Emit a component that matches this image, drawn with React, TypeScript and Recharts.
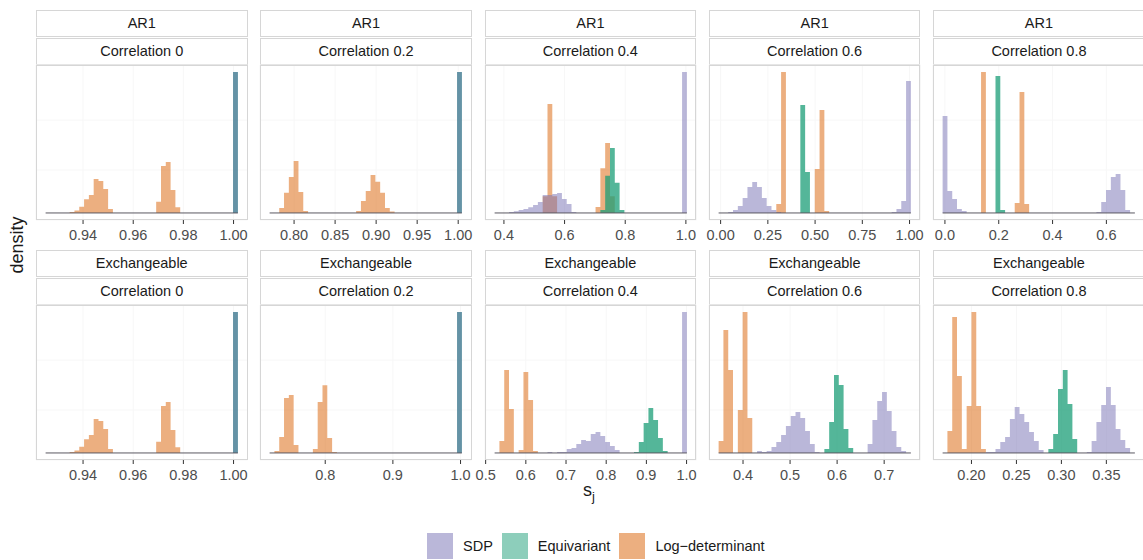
import { ComposedChart, Area, XAxis, YAxis, CartesianGrid, ReferenceLine } from 'recharts'

const FONT = '"Liberation Sans", Arial, Helvetica, sans-serif'
const BINS = 40

const methods = ['SDP', 'Equivariant', 'Log−determinant']
const methodColors = ['#7570b3', '#1b9e77', '#d95f02']

const structures = ['AR1', 'Exchangeable']
const correlations = ['Correlation 0', 'Correlation 0.2', 'Correlation 0.4', 'Correlation 0.6', 'Correlation 0.8']

// each panel: 40 histogram bins over [lo, hi]; runs are [first bin, height, height, ...]
// correlation 0 gives the identity matrix, so both structures share it
const r0_range = [0.92507, 1.00173]
const r0_ticks = [0.94, 0.96, 0.98, 1.0]
const r0_sdp = [[39, 423]]
const r0_eq = [[39, 423]]
const r0_ld = [[5, 3, 7, 19, 41, 54, 102, 96, 72, 12], [23, 34, 141, 153, 69, 17]]

const ar1_02_range = [0.7702, 1.0045]
const ar1_02_ticks = [0.8, 0.85, 0.9, 0.95, 1.0]
const ar1_02_sdp = [[39, 423]]
const ar1_02_eq = [[39, 423]]
const ar1_02_ld = [[2, 15, 61, 108, 156, 63, 6], [18, 6, 36, 66, 114, 94, 61, 15, 4]]

const ar1_04_range = [0.3693, 1.0033]
const ar1_04_ticks = [0.4, 0.6, 0.8, 1.0]
const ar1_04_sdp = [[3, 3, 5, 9, 12, 17, 24, 33, 54, 54, 57, 60, 42, 27, 3], [39, 423]]
const ar1_04_eq = [[22, 9, 112, 195, 91, 9]]
const ar1_04_ld = [[10, 50, 327, 50], [21, 18, 134, 210, 50]]

const ar1_06_range = [-0.0106, 1.0071]
const ar1_06_ticks = [0, 0.25, 0.5, 0.75, 1.0]
const ar1_06_sdp = [[2, 3, 9, 21, 45, 78, 93, 78, 45, 21, 9, 3], [36, 3, 12, 36, 396]]
const ar1_06_eq = [[17, 324, 123]]
const ar1_06_ld = [[12, 27, 423], [20, 132, 309, 6]]

const ar1_08_range = [-0.0086, 0.7059]
const ar1_08_ticks = [0, 0.2, 0.4, 0.6]
const ar1_08_sdp = [[0, 291, 66, 42, 12, 6], [32, 3, 33, 69, 108, 117, 69, 9]]
const ar1_08_eq = [[11, 411, 9]]
const ar1_08_ld = [[8, 423], [15, 30, 363, 27]]

const exc_02_range = [0.7178, 1.002]
const exc_02_ticks = [0.8, 0.9, 1.0]
const exc_02_sdp = [[39, 423]]
const exc_02_eq = [[39, 423]]
const exc_02_ld = [[1, 6, 48, 165, 174, 24], [9, 12, 153, 203, 45, 3]]

const exc_04_range = [0.5223, 1.0008]
const exc_04_ticks = [0.5, 0.6, 0.7, 0.8, 0.9, 1.0]
const exc_04_sdp = [[11, 3, 0, 3, 3, 12, 15, 27, 39, 36, 57, 63, 51, 33, 21, 9], [39, 423]]
const exc_04_eq = [[29, 3, 33, 90, 135, 99, 45, 6]]
const exc_04_ld = [[1, 36, 249, 132, 0, 9, 243, 159, 6]]

const exc_06_range = [0.3481, 0.7568]
const exc_06_ticks = [0.4, 0.5, 0.6, 0.7]
const exc_06_sdp = [[8, 6, 3, 6, 18, 33, 54, 81, 111, 123, 105, 66, 27, 3], [31, 27, 99, 156, 183, 126, 66, 18, 6]]
const exc_06_eq = [[22, 12, 93, 234, 204, 72, 15]]
const exc_06_ld = [[0, 36, 369, 249, 0, 129, 423, 105]]

const exc_08_range = [0.16793, 0.38172]
const exc_08_ticks = [0.2, 0.25, 0.3, 0.35]
const exc_08_sdp = [[9, 3, 3, 12, 33, 48, 102, 138, 117, 93, 63, 36, 9], [30, 3, 36, 93, 144, 198, 144, 72, 39, 15]]
const exc_08_eq = [[22, 12, 57, 192, 249, 147, 42]]
const exc_08_ld = [[1, 66, 408, 231, 12, 141, 423, 141, 12]]

const panels = [
  { row: 0, col: 0, range: r0_range, ticks: r0_ticks, digits: 2, sdp: r0_sdp, eq: r0_eq, ld: r0_ld },
  { row: 0, col: 1, range: ar1_02_range, ticks: ar1_02_ticks, digits: 2, sdp: ar1_02_sdp, eq: ar1_02_eq, ld: ar1_02_ld },
  { row: 0, col: 2, range: ar1_04_range, ticks: ar1_04_ticks, digits: 1, sdp: ar1_04_sdp, eq: ar1_04_eq, ld: ar1_04_ld },
  { row: 0, col: 3, range: ar1_06_range, ticks: ar1_06_ticks, digits: 2, sdp: ar1_06_sdp, eq: ar1_06_eq, ld: ar1_06_ld },
  { row: 0, col: 4, range: ar1_08_range, ticks: ar1_08_ticks, digits: 1, sdp: ar1_08_sdp, eq: ar1_08_eq, ld: ar1_08_ld },
  { row: 1, col: 0, range: r0_range, ticks: r0_ticks, digits: 2, sdp: r0_sdp, eq: r0_eq, ld: r0_ld },
  { row: 1, col: 1, range: exc_02_range, ticks: exc_02_ticks, digits: 1, sdp: exc_02_sdp, eq: exc_02_eq, ld: exc_02_ld },
  { row: 1, col: 2, range: exc_04_range, ticks: exc_04_ticks, digits: 1, sdp: exc_04_sdp, eq: exc_04_eq, ld: exc_04_ld },
  { row: 1, col: 3, range: exc_06_range, ticks: exc_06_ticks, digits: 1, sdp: exc_06_sdp, eq: exc_06_eq, ld: exc_06_ld },
  { row: 1, col: 4, range: exc_08_range, ticks: exc_08_ticks, digits: 2, sdp: exc_08_sdp, eq: exc_08_eq, ld: exc_08_ld },
]

const COL_LEFT = [36, 260.3, 484.6, 708.9, 933.2]
const ROW_TOP = [10, 250]
const PANEL_W = 211.5
const PANEL_H = 155
const STRIP_H = 27
const BORDER = '#d6d6d6'

type Key = 'sdp' | 'eq' | 'ld'

function toRows(range: number[], sdp: number[][], eq: number[][], ld: number[][]) {
  const [lo, hi] = range
  const width = (hi - lo) / BINS
  const rows = Array.from({ length: BINS + 1 }, (_, k) => ({ x: lo + k * width, sdp: 0, eq: 0, ld: 0 }))
  const put = (runs: number[][], key: Key) =>
    runs.forEach(([first, ...heights]) =>
      heights.forEach((h, i) => {
        rows[first + i][key] = h
      })
    )
  put(sdp, 'sdp')
  put(eq, 'eq')
  put(ld, 'ld')
  return rows
}

function Panel({ p }: { p: (typeof panels)[number] }) {
  const rows = toRows(p.range, p.sdp, p.eq, p.ld)
  const ymax = Math.max(...rows.map((r) => Math.max(r.sdp, r.eq, r.ld)))
  const [lo, hi] = p.range
  const pad = (hi - lo) * 0.05
  const strip: React.CSSProperties = {
    position: 'absolute',
    left: 0,
    width: PANEL_W,
    height: STRIP_H,
    boxSizing: 'border-box',
    border: `1px solid ${BORDER}`,
    background: '#fff',
    textAlign: 'center',
    lineHeight: `${STRIP_H - 2}px`,
    fontSize: 14.5,
    color: '#1a1a1a',
  }
  return (
    <div style={{ position: 'absolute', left: COL_LEFT[p.col], top: ROW_TOP[p.row], width: PANEL_W }}>
      <div style={{ ...strip, top: 0 }}>{structures[p.row]}</div>
      <div style={{ ...strip, top: STRIP_H + 1 }}>{correlations[p.col]}</div>
      <div style={{ position: 'absolute', left: 0, top: 2 * STRIP_H + 1 }}>
        <ComposedChart width={PANEL_W} height={PANEL_H + 28} data={rows} margin={{ top: 0, right: 0, bottom: 0, left: 0 }}>
          <CartesianGrid stroke="#f7f7f7" />
          <XAxis
            dataKey="x"
            type="number"
            domain={[lo - pad, hi + pad]}
            allowDataOverflow
            ticks={p.ticks}
            interval={0}
            tickFormatter={(v: number) => v.toFixed(p.digits)}
            height={28}
            tickSize={4}
            tickMargin={6}
            axisLine={false}
            tickLine={{ stroke: '#333333' }}
            tick={{ fill: '#4d4d4d', fontSize: 14.5 }}
          />
          <YAxis hide type="number" domain={[-0.05 * ymax, 1.05 * ymax]} allowDataOverflow />
          <Area type="stepAfter" dataKey="ld" baseValue={0} fill={methodColors[2]} fillOpacity={0.5} stroke="none" isAnimationActive={false} />
          <Area type="stepAfter" dataKey="eq" baseValue={0} fill={methodColors[1]} fillOpacity={0.75} stroke="none" isAnimationActive={false} />
          <Area type="stepAfter" dataKey="sdp" baseValue={0} fill={methodColors[0]} fillOpacity={0.5} stroke="none" isAnimationActive={false} />
          <ReferenceLine segment={[{ x: lo, y: 0 }, { x: hi, y: 0 }]} stroke="#5b5862" strokeWidth={1} />
        </ComposedChart>
        <div
          style={{
            position: 'absolute',
            left: 0,
            top: 0,
            width: PANEL_W,
            height: PANEL_H,
            boxSizing: 'border-box',
            border: `1px solid ${BORDER}`,
            pointerEvents: 'none',
          }}
        />
      </div>
    </div>
  )
}

export default function App() {
  return (
    <div
      style={{
        position: 'absolute',
        left: 0,
        top: 0,
        width: 1143,
        height: 560,
        overflow: 'hidden',
        background: '#fff',
        fontFamily: FONT,
      }}
    >
      <style>{'.recharts-surface { overflow: visible; }'}</style>
      {panels.map((p) => (
        <Panel key={`${p.row}-${p.col}`} p={p} />
      ))}
      <div
        style={{
          position: 'absolute',
          left: 17,
          top: 245,
          transform: 'translate(-50%, -50%) rotate(-90deg)',
          fontSize: 18,
          color: '#1a1a1a',
          whiteSpace: 'nowrap',
        }}
      >
        density
      </div>
      <div
        style={{
          position: 'absolute',
          left: 589,
          top: 480,
          transform: 'translateX(-50%)',
          fontSize: 18,
          color: '#1a1a1a',
        }}
      >
        s<sub style={{ fontSize: 13 }}>j</sub>
      </div>
      <div style={{ position: 'absolute', left: 427, top: 533, display: 'flex', alignItems: 'center', fontSize: 14.5, color: '#1a1a1a' }}>
        {methods.map((m, i) => (
          <div key={m} style={{ display: 'flex', alignItems: 'center', marginRight: 9 }}>
            <div style={{ width: 26, height: 26, background: methodColors[i], opacity: 0.5 }} />
            <span style={{ marginLeft: 10 }}>{m}</span>
          </div>
        ))}
      </div>
    </div>
  )
}
